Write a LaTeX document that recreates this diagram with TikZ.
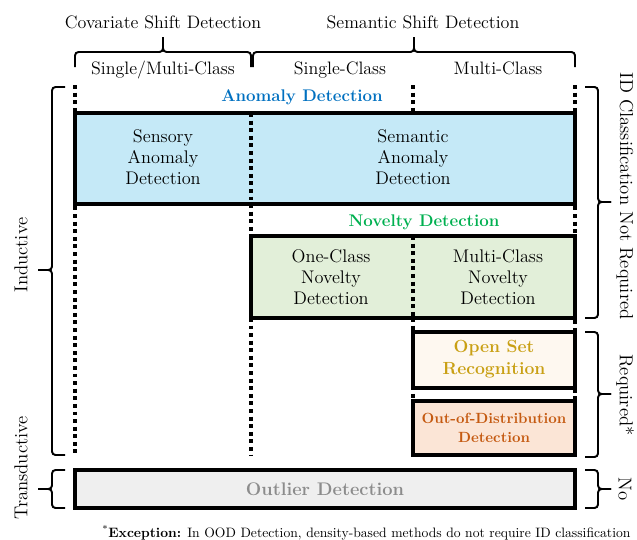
\documentclass[tikz,border=0pt]{standalone}
\definecolor{anomblue}{RGB}{0,112,192}
\definecolor{anomfill}{RGB}{197,233,247}
\definecolor{novgreen}{RGB}{0,176,80}
\definecolor{novfill}{RGB}{226,239,217}
\definecolor{osrgold}{RGB}{201,160,20}
\definecolor{osrfill}{RGB}{254,248,240}
\definecolor{oodorange}{RGB}{197,90,17}
\definecolor{oodfill}{RGB}{251,229,214}
\definecolor{outgray}{RGB}{140,140,140}
\definecolor{outfill}{RGB}{239,239,239}
\begin{document}
\begin{tikzpicture}[x=0.025cm, y=-0.025cm,
    box/.style={draw, line width=2.8pt},
    guide/.style={line width=2.6pt, dash pattern=on 2.8pt off 2.6pt},
    brk/.style={line width=1.4pt, rounded corners=2.5pt},
    head/.style={font=\fontsize{12.8}{15}\selectfont, inner sep=0pt},
    side/.style={font=\fontsize{13.3}{15}\selectfont, inner sep=0pt},
    cell/.style={font=\fontsize{13}{15}\selectfont, align=center, inner sep=0pt},
    title/.style={font=\fontsize{12}{14}\selectfont\bfseries, inner sep=0pt}]
  \useasboundingbox (0,0) rectangle (637,539);

  \node[head, anchor=base] (cov) at (163,28) {Covariate Shift Detection};
  \node[head, anchor=base] (sem) at (423,28) {Semantic Shift Detection};
  \node[head, anchor=base] (smc) at (163,74) {Single/Multi-Class};
  \node[head, anchor=base] (sc) at (340,74) {Single-Class};
  \node[head, anchor=base] (mc) at (498,74) {Multi-Class};
  \draw[brk] (75,67) |- (163,52) -- (163,37);
  \draw[brk] (251,67) |- (163,52) -- (163,37);
  \draw[brk] (253,67) |- (414,52) -- (414,37);
  \draw[brk] (575,67) |- (414,52) -- (414,37);

  \draw[guide] (75,85) -- (75,455);
  \draw[guide] (575,85) -- (575,455);
  \draw[guide] (413,85) -- (413,115);
  \draw[guide] (413,318) -- (413,401);
  \draw[guide] (251,204) -- (251,455);

  \draw[box, fill=anomfill] (75,113) rectangle (575,204);
  \draw[box, fill=novfill] (251,236) rectangle (575,318);
  \draw[box, fill=osrfill] (413,332) rectangle (575,388);
  \draw[box, fill=oodfill] (413,401) rectangle (575,455);
  \draw[box, fill=outfill] (75,470) rectangle (575,508);
  \draw[guide] (251,113) -- (251,204);
  \draw[guide] (413,236) -- (413,318);

  \node[title, text=anomblue] (ad) at (302,97) {Anomaly Detection};
  \node[cell] (sad) at (163,157) {Sensory\\Anomaly\\Detection};
  \node[cell] (semad) at (413,157) {Semantic\\Anomaly\\Detection};
  \node[title, text=novgreen] (nd) at (424,222) {Novelty Detection};
  \node[cell] (ocnd) at (331,277) {One-Class\\Novelty\\Detection};
  \node[cell] (mcnd) at (498,277) {Multi-Class\\Novelty\\Detection};
  \node[cell, font=\fontsize{12.5}{15.5}\selectfont\bfseries, text=osrgold] (osr) at (494,359) {Open Set\\Recognition};
  \node[cell, font=\fontsize{10.5}{13.5}\selectfont\bfseries, text=oodorange] (ood) at (494,428) {Out-of-Distribution\\Detection};
  \node[cell, font=\fontsize{13}{15}\selectfont\bfseries, text=outgray] (od) at (325,489) {Outlier Detection};

  \draw[brk] (65,87) -| (52,270) -- (38,270);
  \draw[brk] (65,455) -| (52,270) -- (38,270);
  \draw[brk] (65,470) -| (52,489) -- (38,489);
  \draw[brk] (65,508) -| (52,489) -- (38,489);
  \draw[brk] (585,87) -| (598,202) -- (611,202);
  \draw[brk] (585,318) -| (598,202) -- (611,202);
  \draw[brk] (585,332) -| (598,394) -- (611,394);
  \draw[brk] (585,457) -| (598,394) -- (611,394);
  \draw[brk] (585,470) -| (598,489) -- (611,489);
  \draw[brk] (585,508) -| (598,489) -- (611,489);
  \node[side, rotate=90] (ind) at (21,255) {Inductive};
  \node[side, rotate=90] (trans) at (21,468) {Transductive};
  \node[side, rotate=-90] (nreq) at (625,196) {ID Classification Not Required};
  \node[side, rotate=-90] (req) at (625,395) {Required*};
  \node[side, rotate=-90] (no) at (625,489) {No};

  \node[anchor=west, inner sep=0pt, font=\fontsize{9.7}{12}\selectfont] (exc) at (102,533)
    {\textsuperscript{*}\textbf{Exception:} In OOD Detection, density-based methods do not require ID classification};
\end{tikzpicture}
\end{document}
